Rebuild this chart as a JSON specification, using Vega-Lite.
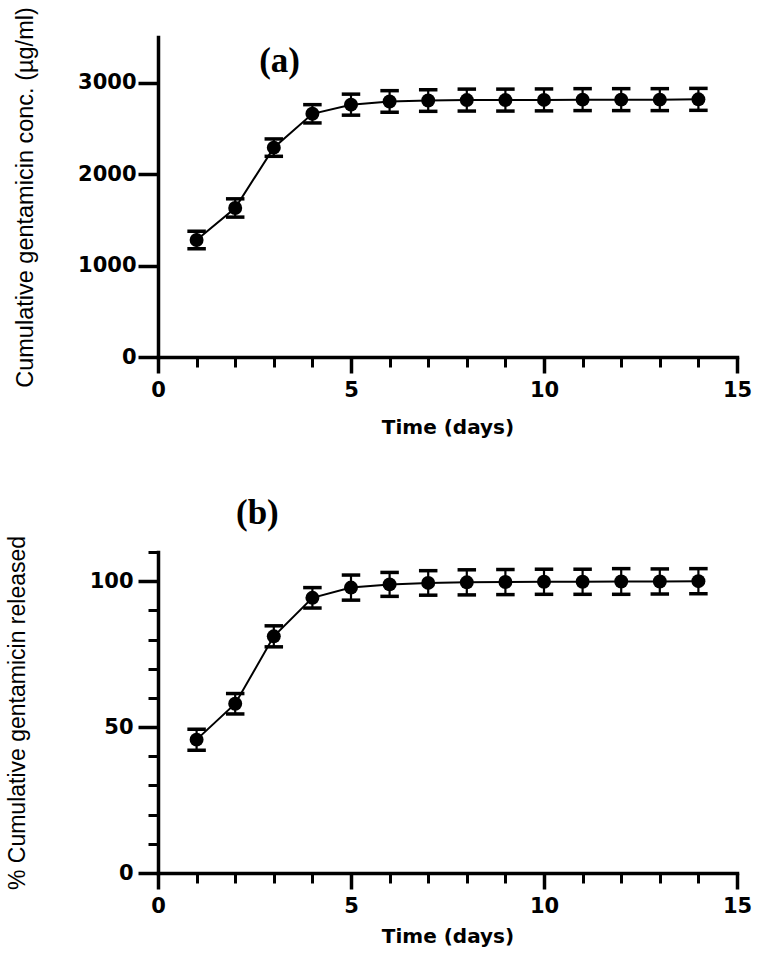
{
  "$schema": "https://vega.github.io/schema/vega-lite/v6.json",
  "background": "white",
  "padding": {"left": 6, "top": 6, "right": 10, "bottom": 5},
  "spacing": 59,
  "datasets": {
    "conc": [
      {"day": 1, "mean": 1280, "sd": 95},
      {"day": 2, "mean": 1630, "sd": 100},
      {"day": 3, "mean": 2290, "sd": 95},
      {"day": 4, "mean": 2660, "sd": 100},
      {"day": 5, "mean": 2760, "sd": 115},
      {"day": 6, "mean": 2795, "sd": 118},
      {"day": 7, "mean": 2805, "sd": 118},
      {"day": 8, "mean": 2810, "sd": 120},
      {"day": 9, "mean": 2810, "sd": 120},
      {"day": 10, "mean": 2812, "sd": 120},
      {"day": 11, "mean": 2815, "sd": 120},
      {"day": 12, "mean": 2815, "sd": 120},
      {"day": 13, "mean": 2815, "sd": 120},
      {"day": 14, "mean": 2818, "sd": 120}
    ],
    "pct": [
      {"day": 1, "mean": 45.7, "sd": 3.6},
      {"day": 2, "mean": 58.0, "sd": 3.5},
      {"day": 3, "mean": 81.1, "sd": 3.6},
      {"day": 4, "mean": 94.3, "sd": 3.5},
      {"day": 5, "mean": 97.8, "sd": 4.3},
      {"day": 6, "mean": 98.9, "sd": 4.1},
      {"day": 7, "mean": 99.4, "sd": 4.2},
      {"day": 8, "mean": 99.6, "sd": 4.3},
      {"day": 9, "mean": 99.7, "sd": 4.3},
      {"day": 10, "mean": 99.8, "sd": 4.3},
      {"day": 11, "mean": 99.8, "sd": 4.3},
      {"day": 12, "mean": 99.9, "sd": 4.4},
      {"day": 13, "mean": 99.9, "sd": 4.3},
      {"day": 14, "mean": 100.0, "sd": 4.3}
    ]
  },
  "config": {
    "view": {"stroke": null},
    "axis": {
      "grid": false,
      "domainColor": "black",
      "domainWidth": 3.5,
      "domainCap": "square",
      "tickColor": "black",
      "tickWidth": 3.5,
      "labelColor": "black",
      "labelFont": "DejaVu Sans",
      "labelFontWeight": "bold",
      "labelFontSize": 21,
      "labelFlush": false,
      "labelOverlap": false,
      "titleColor": "black",
      "format": "d"
    }
  },
  "vconcat": [
    {
      "width": 579,
      "height": 320,
      "layer": [
        {
          "data": {"name": "conc"},
          "mark": {"type": "errorbar", "ticks": {"size": 16, "strokeWidth": 2.5, "stroke": "black", "color": "black", "opacity": 1}, "rule": {"stroke": "black", "strokeWidth": 2.2, "opacity": 1}, "color": "black"},
          "encoding": {
            "x": {"field": "day", "type": "quantitative", "scale": {"domain": [0, 15], "nice": false},
              "axis": {"orient": "bottom", "values": [0, 5, 10, 15], "tickSize": 16, "labelPadding": 6, "title": "Time (days)", "titleFont": "DejaVu Sans", "titleFontWeight": "bold", "titleFontSize": 20, "titlePadding": 17}},
            "y": {"field": "mean", "type": "quantitative", "scale": {"domain": [0, 3500], "nice": false},
              "axis": {"orient": "left", "values": [0, 1000, 2000, 3000], "tickSize": 20, "labelPadding": 2, "title": "Cumulative gentamicin conc. (µg/ml)", "titleFont": "Liberation Sans", "titleFontWeight": "normal", "titleFontSize": 23.5, "titlePadding": 40}},
            "yError": {"field": "sd"}
          }
        },
        {
          "data": {"name": "conc"},
          "mark": {"type": "line", "color": "black", "strokeWidth": 2},
          "encoding": {
            "x": {"field": "day", "type": "quantitative", "axis": null},
            "y": {"field": "mean", "type": "quantitative", "axis": null}
          }
        },
        {
          "data": {"name": "conc"},
          "mark": {"type": "point", "filled": true, "shape": "circle", "size": 195, "color": "black", "opacity": 1},
          "encoding": {
            "x": {"field": "day", "type": "quantitative",
              "axis": {"orient": "bottom", "values": [1, 2, 3, 4, 6, 7, 8, 9, 11, 12, 13, 14], "tickSize": 10, "tickWidth": 3, "labels": false, "domain": false, "title": null}},
            "y": {"field": "mean", "type": "quantitative", "axis": null}
          }
        },
        {
          "data": {"values": [{"label": "(a)"}]},
          "mark": {"type": "text", "align": "left", "baseline": "alphabetic", "font": "Liberation Serif", "fontWeight": "bold", "fontSize": 35, "color": "black"},
          "encoding": {
            "x": {"datum": 2.62, "type": "quantitative", "axis": null},
            "y": {"datum": 3114, "type": "quantitative", "axis": null},
            "text": {"field": "label"}
          }
        }
      ],
      "resolve": {"axis": {"x": "independent", "y": "independent"}}
    },
    {
      "width": 579,
      "height": 321,
      "layer": [
        {
          "data": {"name": "pct"},
          "mark": {"type": "errorbar", "ticks": {"size": 16, "strokeWidth": 2.5, "stroke": "black", "color": "black", "opacity": 1}, "rule": {"stroke": "black", "strokeWidth": 2.2, "opacity": 1}, "color": "black"},
          "encoding": {
            "x": {"field": "day", "type": "quantitative", "scale": {"domain": [0, 15], "nice": false},
              "axis": {"orient": "bottom", "values": [0, 5, 10, 15], "tickSize": 16, "labelPadding": 6, "title": "Time (days)", "titleFont": "DejaVu Sans", "titleFontWeight": "bold", "titleFontSize": 20, "titlePadding": 10}},
            "y": {"field": "mean", "type": "quantitative", "scale": {"domain": [0, 110], "nice": false},
              "axis": {"orient": "left", "values": [0, 50, 100], "tickSize": 20, "labelPadding": 5, "title": "% Cumulative gentamicin released", "titleFont": "Liberation Sans", "titleFontWeight": "normal", "titleFontSize": 23, "titlePadding": 60}},
            "yError": {"field": "sd"}
          }
        },
        {
          "data": {"name": "pct"},
          "mark": {"type": "line", "color": "black", "strokeWidth": 2},
          "encoding": {
            "x": {"field": "day", "type": "quantitative", "axis": null},
            "y": {"field": "mean", "type": "quantitative", "axis": null}
          }
        },
        {
          "data": {"name": "pct"},
          "mark": {"type": "point", "filled": true, "shape": "circle", "size": 195, "color": "black", "opacity": 1},
          "encoding": {
            "x": {"field": "day", "type": "quantitative",
              "axis": {"orient": "bottom", "values": [1, 2, 3, 4, 6, 7, 8, 9, 11, 12, 13, 14], "tickSize": 10, "tickWidth": 3, "labels": false, "domain": false, "title": null}},
            "y": {"field": "mean", "type": "quantitative",
              "axis": {"orient": "left", "values": [10, 20, 30, 40, 60, 70, 80, 90, 110], "tickSize": 10, "tickWidth": 3, "labels": false, "domain": false, "title": null}}
          }
        },
        {
          "data": {"values": [{"label": "(b)"}]},
          "mark": {"type": "text", "align": "left", "baseline": "alphabetic", "font": "Liberation Serif", "fontWeight": "bold", "fontSize": 35, "color": "black"},
          "encoding": {
            "x": {"datum": 2.02, "type": "quantitative", "axis": null},
            "y": {"datum": 119.5, "type": "quantitative", "axis": null},
            "text": {"field": "label"}
          }
        }
      ],
      "resolve": {"axis": {"x": "independent", "y": "independent"}}
    }
  ]
}
